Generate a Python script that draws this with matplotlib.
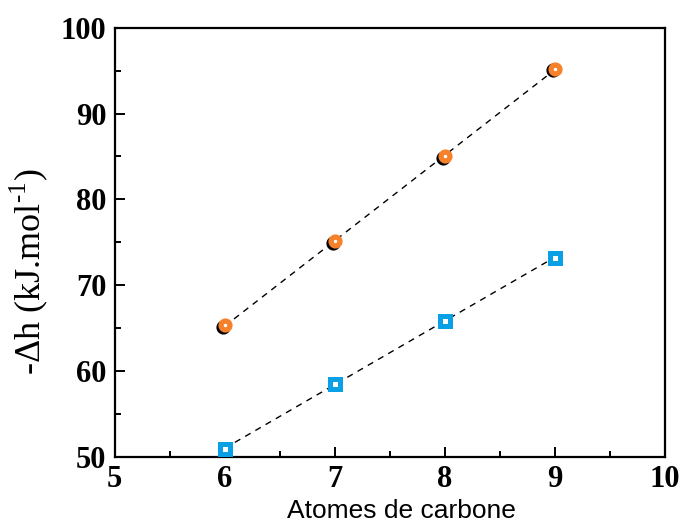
import numpy as np
import matplotlib.pyplot as plt
from matplotlib.transforms import offset_copy

plt.rcParams["mathtext.fontset"] = "custom"
plt.rcParams["mathtext.rm"] = "Liberation Serif"

carbons = [6, 7, 8, 9]
dh_orange = [65.3, 75.1, 85.0, 95.2]
dh_blue = [50.9, 58.5, 65.8, 73.2]

orange = "#f7812a"
blue = "#0aa0e6"

fig = plt.figure(figsize=(6.83, 5.26), dpi=100)
ax = fig.add_axes([0.168, 0.132, 0.805, 0.815])

# linear fits through each series
xs = np.array(carbons, dtype=float)
for ys in (dh_orange, dh_blue):
    k, b = np.polyfit(xs, ys, 1)
    ax.plot(xs, k * xs + b, ls=(0, (4.5, 4)), color="black", lw=1.0, zorder=1)

# dark shadow under the orange circles
shadow = offset_copy(ax.transData, fig=fig, x=-0.9, y=-0.9, units="points")
ax.plot(carbons, dh_orange, "o", ms=6.4, mfc="white", mec="black", mew=3.8,
        transform=shadow, zorder=2)
ax.plot(carbons, dh_orange, "o", ms=6.4, mfc="white", mec=orange, mew=3.8, zorder=3)
ax.plot(carbons, dh_blue, "s", ms=7.2, mfc="white", mec=blue, mew=3.6, zorder=3)

ax.set_xlim(5, 10)
ax.set_ylim(50, 100)
ax.set_xticks([5, 6, 7, 8, 9, 10])
ax.set_xticks(np.arange(5.5, 10, 1), minor=True)
ax.set_yticks([50, 60, 70, 80, 90, 100])
ax.set_yticks(np.arange(55, 100, 10), minor=True)
ax.tick_params(which="both", direction="in", top=False, right=False, width=1.4)
ax.tick_params(which="major", length=7, pad=6)
ax.tick_params(which="minor", length=4)
for lab in ax.get_xticklabels() + ax.get_yticklabels():
    lab.set_fontfamily("Liberation Serif")
    lab.set_fontweight("bold")
    lab.set_fontsize(22)
for sp in ax.spines.values():
    sp.set_linewidth(1.6)

ax.set_xlabel("Atomes de carbone", fontfamily="Liberation Sans", fontsize=19)
ax.xaxis.set_label_coords(0.522, -0.098)
ax.set_ylabel(r"-Δh (kJ.mol$^{\text{-}1}$)", fontfamily="Liberation Serif",
              fontsize=26)
ax.yaxis.set_label_coords(-0.118, 0.43)

fig.savefig("out.png", dpi=100)
